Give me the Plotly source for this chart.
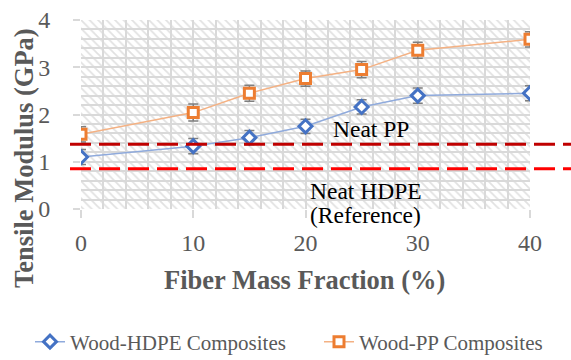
import plotly.graph_objects as go

fiber = [0, 10, 15, 20, 25, 30, 40]
hdpe = [1.10, 1.33, 1.51, 1.75, 2.16, 2.40, 2.45]
hdpe_err = [0.16, 0.16, 0.15, 0.15, 0.15, 0.16, 0.16]
pp = [1.58, 2.04, 2.45, 2.76, 2.95, 3.36, 3.59]
pp_err = [0.16, 0.18, 0.17, 0.16, 0.17, 0.17, 0.16]
neat_pp = 1.37
neat_hdpe = 0.85
x_ticks = [0, 10, 20, 30, 40]
y_ticks = [0, 1, 2, 3, 4]

FONT = "'Liberation Serif', 'Times New Roman', serif"
GRAY = "#595959"
GRID = "#d9d9d9"

L, R, T, B = 81, 41, 20, 151
PW, PH = 571 - L - R, 360 - T - B


def px_x(px):
    return (px - L) / PW


def px_y(py):
    return (360 - B - py) / PH


fig = go.Figure()

# hatched background on its own subplot (drawn below the grid of the main subplot)
fig.add_trace(go.Bar(
    x=[0.5], y=[1], width=[1], xaxis="x", yaxis="y",
    marker=dict(color="white", line=dict(width=0),
                pattern=dict(shape="\\", fgcolor="#c4c4c4", bgcolor="white", size=6, solidity=0.3)),
    hoverinfo="skip", showlegend=False,
))

fig.add_trace(go.Scatter(
    x=fiber, y=hdpe, xaxis="x2", yaxis="y2", name="Wood-HDPE Composites",
    mode="lines+markers", legend="legend",
    line=dict(color="#8faadc", width=1.5),
    marker=dict(symbol="diamond", size=10, color="white", line=dict(color="#4472c4", width=3)),
    error_y=dict(type="data", array=hdpe_err, color="#7f7f7f", thickness=1.5, width=5),
))
fig.add_trace(go.Scatter(
    x=fiber, y=pp, xaxis="x2", yaxis="y2", name="Wood-PP Composites",
    mode="lines+markers", legend="legend2",
    line=dict(color="#f4b183", width=1.5),
    marker=dict(symbol="square", size=10, color="white", line=dict(color="#ed7d31", width=3)),
    error_y=dict(type="data", array=pp_err, color="#7f7f7f", thickness=1.5, width=5),
))

fig.add_shape(type="line", xref="paper", yref="y2", x0=px_x(70), x1=1.2, y0=neat_pp, y1=neat_pp,
              line=dict(color="#c00000", width=3, dash="21px,8px"), layer="above")
fig.add_shape(type="line", xref="paper", yref="y2", x0=px_x(70), x1=1.2, y0=neat_hdpe, y1=neat_hdpe,
              line=dict(color="#ff0000", width=3, dash="21px,8px"), layer="above")

ann_font = dict(family=FONT, size=23.5, color="black")
fig.add_annotation(x=px_x(331), y=px_y(129), xref="paper", yref="paper", text="Neat PP",
                   showarrow=False, xanchor="left", yanchor="middle", font=ann_font)
fig.add_annotation(x=px_x(308), y=px_y(191), xref="paper", yref="paper", text="Neat HDPE",
                   showarrow=False, xanchor="left", yanchor="middle", font=ann_font)
fig.add_annotation(x=px_x(308), y=px_y(215), xref="paper", yref="paper", text="(Reference)",
                   showarrow=False, xanchor="left", yanchor="middle", font=ann_font)

fig.add_annotation(x=px_x(304), y=px_y(280), xref="paper", yref="paper",
                   text="<b>Fiber Mass Fraction (%)</b>", showarrow=False,
                   xanchor="center", yanchor="middle",
                   font=dict(family=FONT, size=26.5, color=GRAY))
fig.add_annotation(x=px_x(24), y=px_y(158), xref="paper", yref="paper",
                   text="<b>Tensile Modulus (GPa)</b>", showarrow=False, textangle=-90,
                   xanchor="center", yanchor="middle",
                   font=dict(family=FONT, size=26.5, color=GRAY))

leg_common = dict(orientation="h", xanchor="left", yanchor="middle", y=px_y(342),
                  font=dict(family=FONT, size=21, color=GRAY), bgcolor="rgba(0,0,0,0)")

fig.update_layout(
    width=571, height=360,
    margin=dict(l=L, r=R, t=T, b=B, autoexpand=False),
    paper_bgcolor="white", plot_bgcolor="rgba(0,0,0,0)",
    font=dict(family=FONT, color=GRAY),
    xaxis=dict(domain=[0, 1], range=[0, 1], visible=False, fixedrange=True),
    yaxis=dict(domain=[0, 1], range=[0, 1], visible=False, fixedrange=True),
    xaxis2=dict(domain=[0, 1], anchor="y2", range=[0, 40], tickvals=x_ticks,
                showgrid=True, gridcolor=GRID, gridwidth=2,
                minor=dict(dtick=2, showgrid=True, gridcolor=GRID, gridwidth=2),
                ticks="outside", ticklen=8, tickcolor=GRID, tickwidth=2,
                ticklabelstandoff=4, automargin=False,
                zeroline=False, showline=False,
                tickfont=dict(family=FONT, size=24, color=GRAY)),
    yaxis2=dict(domain=[0, 1], anchor="x2", range=[0, 4], tickvals=y_ticks,
                showgrid=True, gridcolor=GRID, gridwidth=2,
                minor=dict(dtick=0.2, showgrid=True, gridcolor=GRID, gridwidth=2),
                ticks="outside", ticklen=7, tickcolor=GRID, tickwidth=2,
                ticklabelstandoff=18, automargin=False,
                zeroline=False, showline=False,
                tickfont=dict(family=FONT, size=24, color=GRAY)),
    legend=dict(x=px_x(30), **leg_common),
    legend2=dict(x=px_x(319), **leg_common),
    showlegend=True,
)

fig.write_html("out.html", config={"displayModeBar": False},
               post_script="document.body.style.margin='0';")
